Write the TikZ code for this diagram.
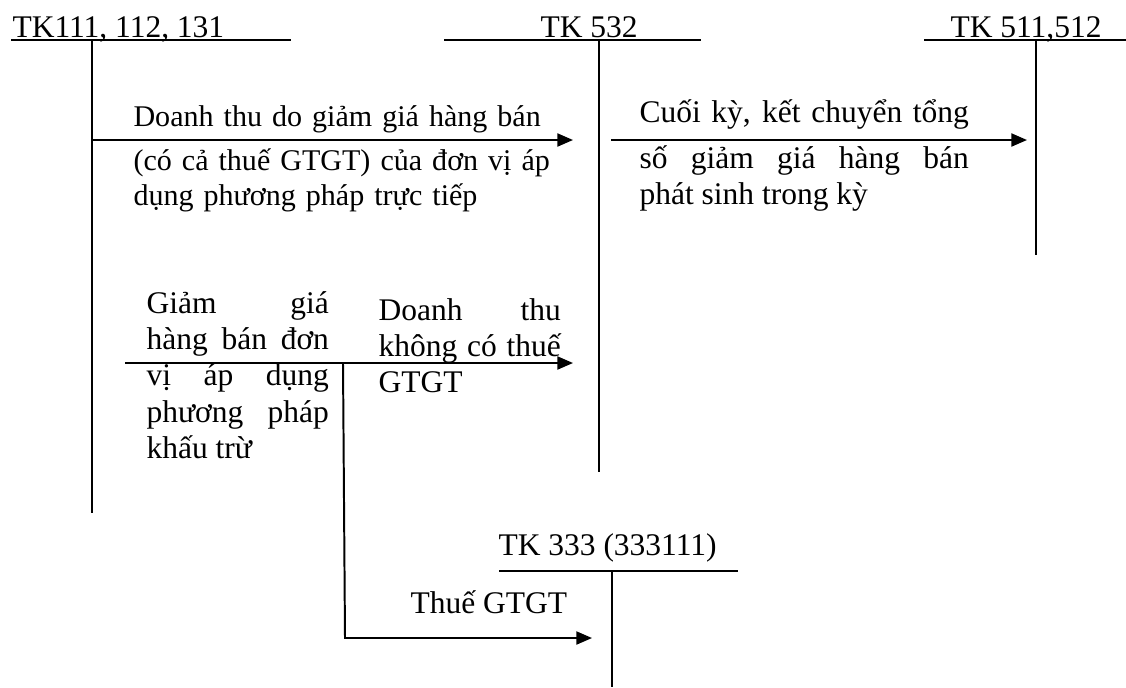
\documentclass[tikz,border=0pt]{standalone}
\usepackage{fontspec}
\setmainfont{Liberation Serif}
\usetikzlibrary{positioning, arrows.meta}
\tikzset{
    tkline/.style={line width=0.75pt, black},
    tktitle/.style={font=\fontsize{12}{13.9}\selectfont, inner sep=0pt, anchor=base west},
    note/.style={font=\fontsize{12}{13.9}\selectfont, inner sep=0pt, anchor=base west, text width=#1},
    arr/.style={-{Triangle[length=6pt, width=5pt]}, line width=0.75pt, black}
}
% extra gap below a line of text that sits above an arrow
\newcommand{\arrgap}{\vadjust{\vskip 3.7pt}}

\begin{document}
\begin{tikzpicture}[x=0.381pt, y=-0.381pt]
        \useasboundingbox (0,0) rectangle (1126,687);

        % T-accounts
        \node[tktitle] (t111) at (12,37) {TK111, 112, 131};
        \node[tktitle] (t532) at (540,37) {TK 532};
        \node[tktitle] (t511) at (950,37) {TK 511,512};
        \node[tktitle] (t333) at (498,555) {TK 333 (333111)};

        \coordinate (tk111) at (92,40);
        \coordinate (tk532) at (599,40);
        \coordinate (tk511) at (1036,40);
        \coordinate (tk333) at (612,571);

        \draw[tkline] (11,40) -- (291,40);
        \draw[tkline] (444,40) -- (701,40);
        \draw[tkline] (924,40) -- (1126,40);
        \draw[tkline] (499,571) -- (738,571);
        \draw[tkline] (tk111) -- (92,513);
        \draw[tkline] (tk532) -- (599,472);
        \draw[tkline] (tk511) -- (1036,255);
        \draw[tkline] (tk333) -- (612,687);

        % Arrows
        \coordinate (a1s) at (92,140);
        \coordinate (a1e) at (573,140);
        \coordinate (a2s) at (611,140);
        \coordinate (a2e) at (1027,140);
        \coordinate (a3s) at (125,363);
        \coordinate (a3e) at (573,363);
        \coordinate (a4s) at (343,363);
        \coordinate (a4c) at (345,638);
        \coordinate (a4e) at (592,638);

        \draw[arr] (a1s) -- (a1e);
        \draw[arr] (a2s) -- (a2e);
        \draw[arr] (a3s) -- (a3e);
        \draw[arr] (a4s) -- (a4c) -- (a4e);

        % Labels
        \node[note=180pt, align=left, font=\fontsize{11.45}{13.3}\selectfont] (n1) at (133,126) {Doanh thu do giảm giá hàng bán\arrgap\\(có cả thuế GTGT) của đơn vị áp\\dụng phương pháp trực tiếp};
        \node[note=125.5pt, align=justify] (n2) at (639,122) {Cuối kỳ, kết chuyển tổng\arrgap\linebreak số giảm giá hàng bán\linebreak phát sinh trong kỳ};
        \node[note=69.5pt, align=justify] (n3) at (146,313) {Giảm giá\linebreak hàng bán đơn\linebreak vị áp dụng\linebreak phương pháp\linebreak khấu trừ};
        \node[note=69.5pt, align=justify] (n4) at (378,320) {Doanh thu\linebreak không có thuế\linebreak GTGT};
        \node[tktitle] (n5) at (410,613) {Thuế GTGT};

    \end{tikzpicture}
\end{document}
